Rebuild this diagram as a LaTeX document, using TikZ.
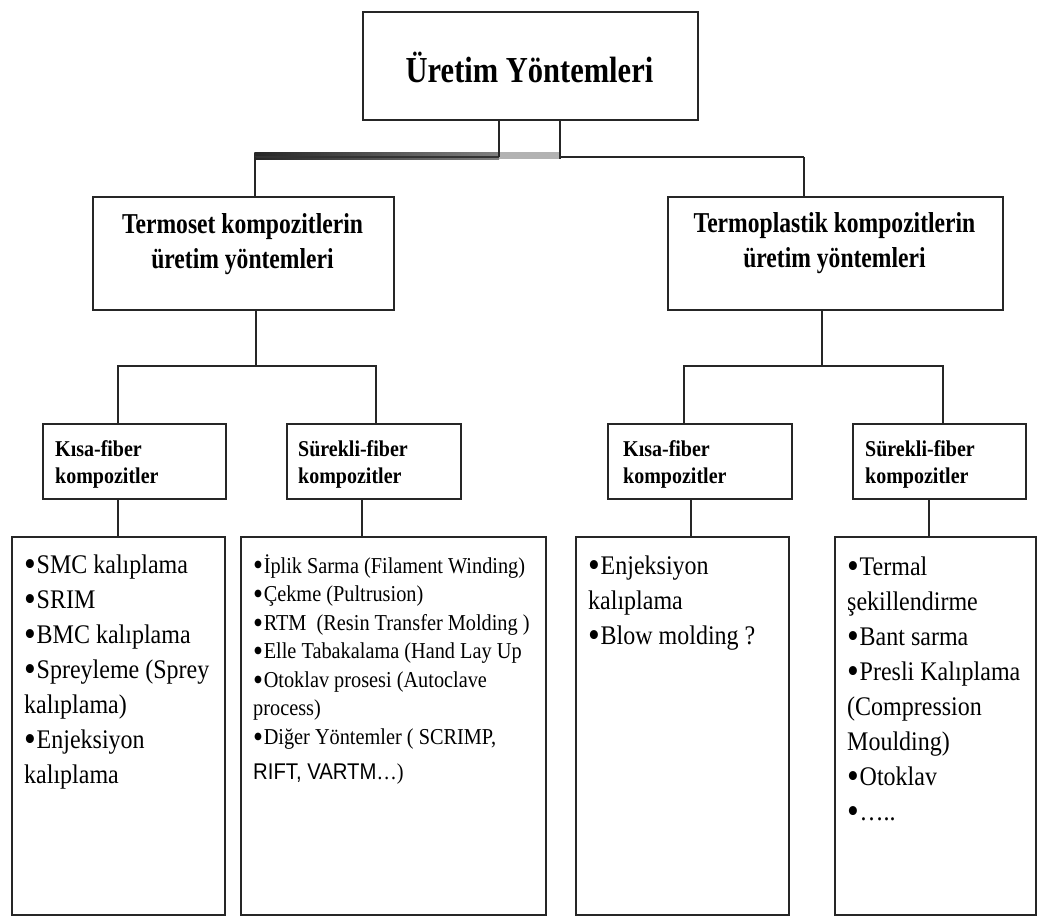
\documentclass[tikz,border=0pt]{standalone}
\usepackage{fontspec}
\setmainfont{Liberation Serif}
\newfontfamily\arialf{Liberation Sans}
\usepackage{graphicx}
\usetikzlibrary{calc}
\newcommand\vst[2]{\scalebox{1}[#1]{#2}}
\newcommand\bul{\makebox[0.52em][l]{\raisebox{-0.13em}{\scalebox{1.4}{•}}}}
\tikzset{
  box/.style={draw=black!85, line width=1.5pt, inner sep=0pt, anchor=north west},
  conn/.style={draw=black!85, line width=1.5pt},
  toptitle/.style={inner sep=0pt, anchor=base, font=\bfseries\fontsize{30.5}{36}\selectfont},
  subtitle/.style={inner sep=0pt, anchor=base, font=\bfseries\fontsize{23.6}{28.7}\selectfont},
  midtitle/.style={inner sep=0pt, anchor=base west, font=\bfseries\fontsize{20}{23.9}\selectfont},
  lstbig/.style={inner sep=0pt, anchor=base west, font=\fontsize{24}{31.25}\selectfont},
  lstsmall/.style={inner sep=0pt, anchor=base west, font=\fontsize{20.3}{25.5}\selectfont},
}
\begin{document}
\begin{tikzpicture}[x=1pt,y=-1pt]
\useasboundingbox[fill=white] (0,0) rectangle (1038,916);

% boxes
\node[box, minimum width=335pt, minimum height=108pt] (top) at (362,11) {};
\node[box, minimum width=301pt, minimum height=113pt] (tset) at (92,196) {};
\node[box, minimum width=335pt, minimum height=113pt] (tplast) at (667,196) {};
\node[box, minimum width=183pt, minimum height=75pt] (k1) at (42,423) {};
\node[box, minimum width=174pt, minimum height=75pt] (s1) at (286,423) {};
\node[box, minimum width=184pt, minimum height=75pt] (k2) at (607,423) {};
\node[box, minimum width=173pt, minimum height=75pt] (s2) at (852,423) {};
\node[box, minimum width=213pt, minimum height=378pt] (l1) at (11,536) {};
\node[box, minimum width=305pt, minimum height=378pt] (l2) at (240,536) {};
\node[box, minimum width=213pt, minimum height=378pt] (l3) at (575,536) {};
\node[box, minimum width=201pt, minimum height=378pt] (l4) at (834,536) {};

% texts
\node[toptitle] (toptxt) at (529.5,82) {\vst{1.2}{Üretim Yöntemleri}};
\node[subtitle] (tsettxt) at (242.5,233) {\vst{1.22}{\begin{tabular}[t]{@{}c@{}}Termoset kompozitlerin\\üretim yöntemleri\end{tabular}}};
\node[subtitle] (tplasttxt) at (834.5,232) {\vst{1.22}{\begin{tabular}[t]{@{}c@{}}Termoplastik kompozitlerin\\üretim yöntemleri\end{tabular}}};
\node[midtitle] (k1txt) at (55,456) {\vst{1.13}{\begin{tabular}[t]{@{}l@{}}Kısa-fiber\\kompozitler\end{tabular}}};
\node[midtitle] (s1txt) at (298,456) {\vst{1.13}{\begin{tabular}[t]{@{}l@{}}Sürekli-fiber\\kompozitler\end{tabular}}};
\node[midtitle] (k2txt) at (623,456) {\vst{1.13}{\begin{tabular}[t]{@{}l@{}}Kısa-fiber\\kompozitler\end{tabular}}};
\node[midtitle] (s2txt) at (865,456) {\vst{1.13}{\begin{tabular}[t]{@{}l@{}}Sürekli-fiber\\kompozitler\end{tabular}}};

\node[lstbig] (l1txt) at (24,573) {\vst{1.12}{\begin{tabular}[t]{@{}l@{}}\bul SMC kalıplama\\\bul SRIM\\\bul BMC kalıplama\\\bul Spreyleme (Sprey\\kalıplama)\\\bul Enjeksiyon\\kalıplama\end{tabular}}};
\node[lstsmall] (l2txt) at (253,573) {\vst{1.12}{\begin{tabular}[t]{@{}l@{}}\bul İplik Sarma (Filament Winding)\\\bul Çekme (Pultrusion)\\\bul RTM\ \ (Resin Transfer Molding )\\\bul Elle Tabakalama (Hand Lay Up\\\bul Otoklav prosesi (Autoclave\\process)\\\bul Diğer Yöntemler ( SCRIMP,\\[5.7pt]{\arialf RIFT, VARTM}…)\end{tabular}}};
\node[lstbig] (l3txt) at (588,574) {\vst{1.12}{\begin{tabular}[t]{@{}l@{}}\bul Enjeksiyon\\kalıplama\\\bul Blow molding ?\end{tabular}}};
\node[lstbig] (l4txt) at (847,575) {\vst{1.12}{\begin{tabular}[t]{@{}l@{}}\bul Termal\\şekillendirme\\\bul Bant sarma\\\bul Presli Kalıplama\\(Compression\\Moulding)\\\bul Otoklav\\\bul …..\end{tabular}}};

% junction coordinates
\coordinate (bl) at (255,157);
\coordinate (ba) at (499,157);
\coordinate (bb) at (560,157);
\coordinate (br) at (804,157);
\coordinate (h1) at (256,366);
\coordinate (h1l) at (118,366);
\coordinate (h1r) at (376,366);
\coordinate (h2) at (822,366);
\coordinate (h2l) at (684,366);
\coordinate (h2r) at (943,366);
\coordinate (c1) at (118,0);
\coordinate (c2) at (362,0);
\coordinate (c3) at (691,0);
\coordinate (c4) at (929,0);

% top bar
\shade[left color=black!85, right color=black!50] ($(bl)+(-0.75,-5)$) rectangle ($(ba)+(0,2)$);
\draw[black!80, line width=1.5pt] (bl) -- (ba);
\fill[black!30] ($(ba)+(0,-5)$) rectangle ($(bb)+(0,2)$);
\draw[conn] (top.south -| ba) -- (ba);
\draw[conn] (top.south -| bb) -- ($(bb)+(0,2)$);
\draw[conn] (bb) -- (br);
\draw[conn] (bl) -- (tset.north -| bl);
\draw[conn] (br) -- (tplast.north -| br);

% left branch
\draw[conn] (tset.south -| h1) -- (h1);
\draw[conn] (k1.north -| h1l) -- (h1l) -- (h1r) -- (s1.north -| h1r);
\draw[conn] (k1.south -| c1) -- (l1.north -| c1);
\draw[conn] (s1.south -| c2) -- (l2.north -| c2);

% right branch
\draw[conn] (tplast.south -| h2) -- (h2);
\draw[conn] (k2.north -| h2l) -- (h2l) -- (h2r) -- (s2.north -| h2r);
\draw[conn] (k2.south -| c3) -- (l3.north -| c3);
\draw[conn] (s2.south -| c4) -- (l4.north -| c4);
\end{tikzpicture}
\end{document}
